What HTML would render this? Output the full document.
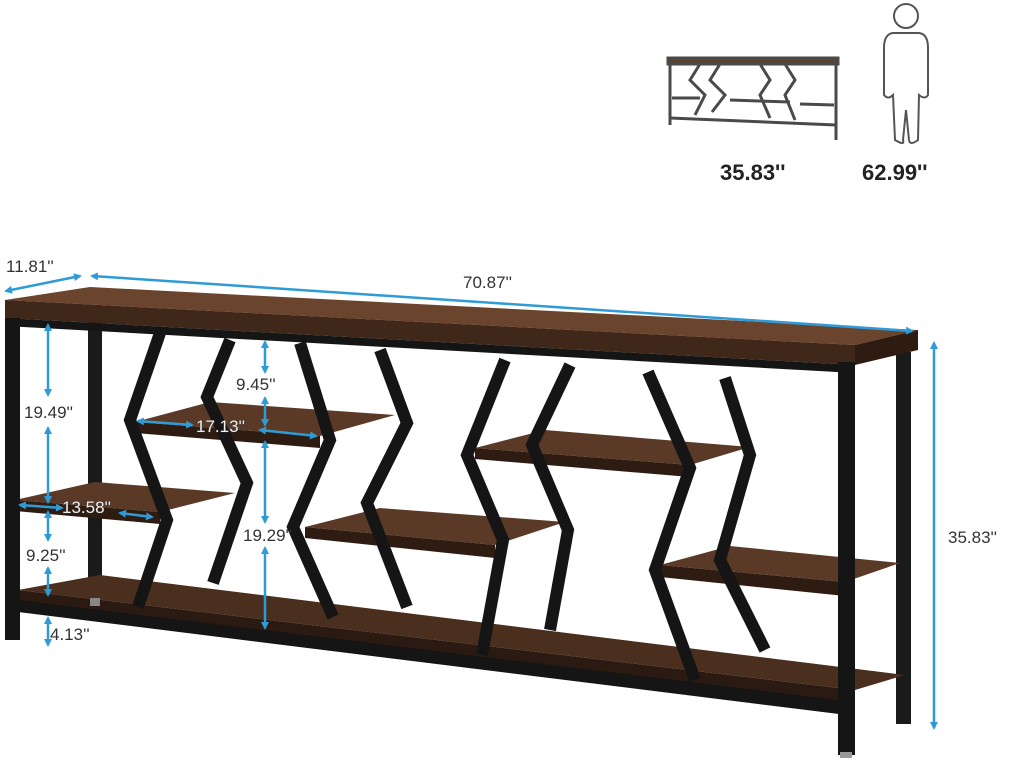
<!DOCTYPE html>
<html><head><meta charset="utf-8"><style>
html,body{margin:0;padding:0;background:#fff;}
svg{display:block}
text{font-family:"Liberation Sans",sans-serif;}
</style></head><body>
<svg width="1024" height="765" viewBox="0 0 1024 765" xmlns="http://www.w3.org/2000/svg">
<defs>
<marker id="ar" markerWidth="8" markerHeight="8" refX="6" refY="4" orient="auto-start-reverse" markerUnits="userSpaceOnUse"><path d="M0,0 L8,4 L0,8 z" fill="#2f9bd6"/></marker>
</defs>
<rect width="1024" height="765" fill="#fff"/>

<!-- small icon table -->
<g stroke="#4a4a4a" fill="none" stroke-width="3">
<rect x="668" y="58" width="170" height="6" fill="#5a4030"/>
<line x1="670" y1="64" x2="670" y2="125"/><line x1="836" y1="64" x2="836" y2="140"/>
<line x1="670" y1="118" x2="836" y2="125"/>
<polyline points="700,64 690,80 705,95 695,115"/><polyline points="720,64 710,80 725,95 712,112"/>
<polyline points="760,64 770,80 760,95 770,118"/><polyline points="785,64 795,80 785,95 795,120"/>
<line x1="672" y1="98" x2="700" y2="98"/><line x1="730" y1="100" x2="790" y2="102"/><line x1="800" y1="104" x2="834" y2="105"/>
</g>
<!-- person -->
<g stroke="#555" fill="none" stroke-width="2">
<circle cx="906" cy="16" r="12"/>
<path d="M893,33 Q884,34 884,48 L884,95 Q888,100 893,95 L895,140 Q905,146 903,140 L906,110 L909,140 Q910,146 918,140 L919,95 Q925,100 928,95 L928,48 Q928,34 919,33 Z"/>
</g>
<text x="720" y="180" font-size="22" font-weight="bold" fill="#222">35.83''</text>
<text x="862" y="180" font-size="22" font-weight="bold" fill="#222">62.99''</text>

<!-- back legs -->
<rect x="88" y="318" width="14" height="280" fill="#1a1a1a"/>
<rect x="896" y="352" width="15" height="372" fill="#1a1a1a"/>

<!-- bottom shelf -->
<polygon points="18,590 100,575 905,675 855,690" fill="#4a2e1e"/>
<polygon points="18,590 855,690 855,705 18,602" fill="#2b1a12"/>
<polygon points="18,600 855,702 855,716 18,612" fill="#151515"/>

<!-- top board -->
<polygon points="5,300 90,287 918,330 855,345" fill="#6a442c"/>
<polygon points="5,300 855,345 855,365 5,318" fill="#3f2719"/>
<polygon points="5,318 855,365 855,373 5,326" fill="#151515"/>
<polygon points="855,345 918,330 918,350 855,365" fill="#2e1c12"/>

<!-- shelves -->
<g>
<polygon points="15,500 95,482 235,493 160,512" fill="#5a3a26"/>
<polygon points="15,500 160,512 160,524 15,511" fill="#2e1c12"/>
<polygon points="135,422 210,402 395,415 320,436" fill="#5a3a26"/>
<polygon points="135,422 320,436 320,448 135,433" fill="#2e1c12"/>
<polygon points="305,527 380,508 565,522 495,545" fill="#5a3a26"/>
<polygon points="305,527 495,545 495,558 305,538" fill="#2e1c12"/>
<polygon points="475,448 545,430 750,447 690,465" fill="#5a3a26"/>
<polygon points="475,448 690,465 690,477 475,459" fill="#2e1c12"/>
<polygon points="660,565 730,546 900,563 845,582" fill="#5a3a26"/>
<polygon points="660,565 845,582 845,596 660,577" fill="#2e1c12"/>
</g>

<!-- zigzag frames -->
<g stroke="#151515" stroke-width="12" fill="none" stroke-linejoin="miter">
<polyline points="160,333 130,420 167,520 138,607"/>
<polyline points="230,340 207,397 247,483 213,583"/>
<polyline points="300,343 330,440 293,527 333,617"/>
<polyline points="380,350 407,423 367,503 407,607"/>
<polyline points="505,360 467,455 503,540 482,655"/>
<polyline points="570,365 532,445 568,530 550,630"/>
<polyline points="648,372 690,468 655,570 695,680"/>
<polyline points="725,378 750,455 720,560 765,650"/>
</g>

<!-- front legs -->
<rect x="5" y="318" width="15" height="322" fill="#151515"/>
<rect x="838" y="362" width="17" height="393" fill="#151515"/>
<rect x="90" y="598" width="10" height="8" fill="#888"/>
<rect x="840" y="752" width="12" height="6" fill="#999"/>

<!-- dimension lines -->
<g stroke="#2f9bd6" stroke-width="2.5" fill="none" marker-start="url(#ar)" marker-end="url(#ar)">
<line x1="6" y1="291" x2="80" y2="276"/>
<line x1="92" y1="276" x2="912" y2="331"/>
<line x1="934" y1="343" x2="934" y2="728"/>
<line x1="48" y1="325" x2="48" y2="395"/>
<line x1="48" y1="428" x2="48" y2="502"/>
<line x1="48" y1="512" x2="48" y2="540"/>
<line x1="48" y1="568" x2="48" y2="595"/>
<line x1="48" y1="618" x2="48" y2="645"/>
<line x1="20" y1="505" x2="62" y2="508"/>
<line x1="120" y1="513" x2="152" y2="517"/>
<line x1="138" y1="421" x2="192" y2="425"/>
<line x1="260" y1="430" x2="316" y2="436"/>
<line x1="265" y1="342" x2="265" y2="372"/>
<line x1="265" y1="398" x2="265" y2="425"/>
<line x1="265" y1="442" x2="265" y2="522"/>
<line x1="265" y1="548" x2="265" y2="628"/>
</g>
<g font-size="17" fill="#333">
<text x="6" y="272">11.81''</text>
<text x="463" y="288">70.87''</text>
<text x="948" y="543">35.83''</text>
<text x="24" y="418">19.49''</text>
<text x="236" y="390">9.45''</text>
<text x="26" y="561">9.25''</text>
<text x="243" y="541">19.29''</text>
<text x="50" y="640">4.13''</text>
</g>
<g font-size="17" fill="#eee" stroke="#333" stroke-width="0.8" paint-order="stroke">
<text x="196" y="432">17.13''</text>
<text x="62" y="513">13.58''</text>
</g>
</svg>
</body></html>
